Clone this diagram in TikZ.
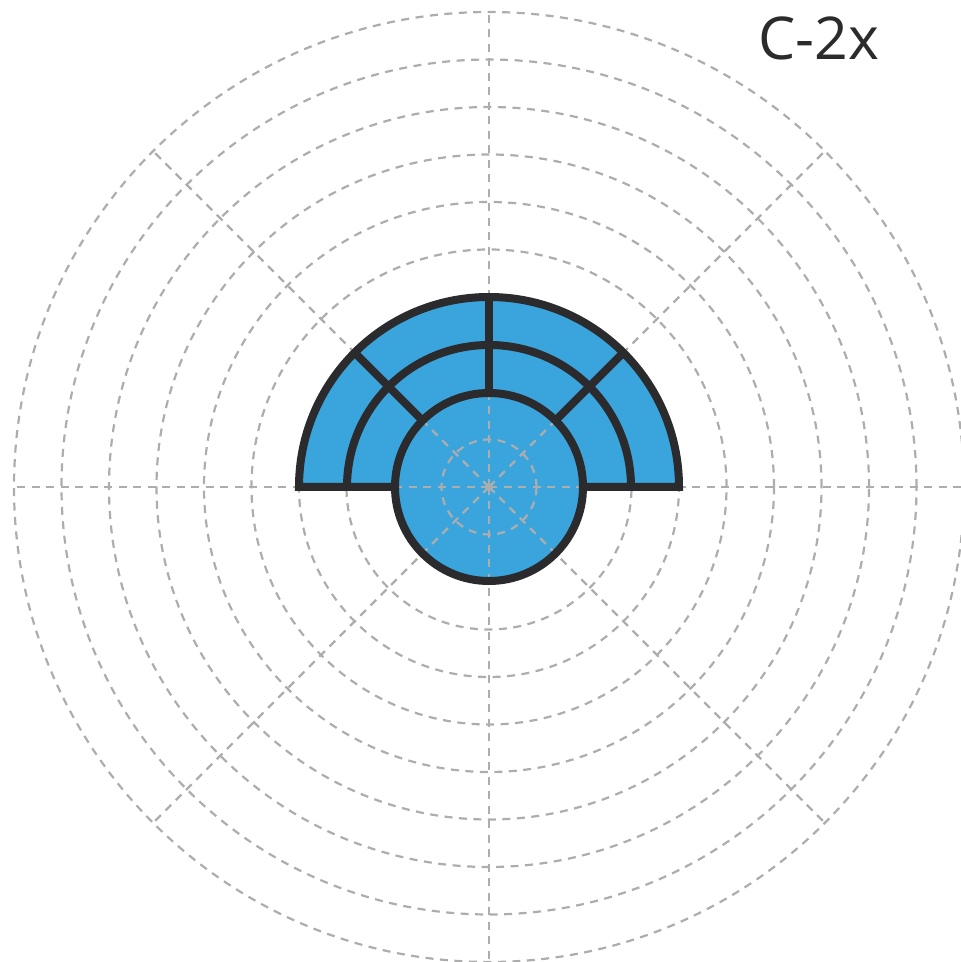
\documentclass[tikz,border=0pt]{standalone}
\usepackage{fontspec}
\setmainfont{Open Sans}
\usetikzlibrary{calc}
\definecolor{gridgray}{HTML}{ADADAD}
\definecolor{fillblue}{HTML}{3AA4DC}
\definecolor{inkdark}{HTML}{2B2A2C}
\tikzset{
  gridline/.style={draw=gridgray, line width=2.2pt, dash pattern=on 8pt off 6.5pt},
  shapeline/.style={draw=inkdark, line width=8pt},
  bluefill/.style={fill=fillblue}
}
\begin{document}
\begin{tikzpicture}[x=1pt,y=1pt]
\useasboundingbox (0,0) rectangle (961,962);
\coordinate (O) at (489,475);
% grid
\foreach \k in {1,...,10} {
  \draw[gridline] (O) circle[radius=47.5*\k];
}
\foreach \a in {0,45,...,315} {
  \draw[gridline] (O) -- ++(\a:475);
}
% outer band
\filldraw[bluefill, shapeline] ($(O)+(-190,0)$) arc[start angle=180, end angle=0, radius=190] -- cycle;
\draw[shapeline] ($(O)+(-142,0)$) arc[start angle=180, end angle=0, radius=142];
\draw[shapeline] ($(O)+(90:94)$) -- ($(O)+(90:190)$);
\draw[shapeline] ($(O)+(135:94)$) -- ($(O)+(135:190)$);
\draw[shapeline] ($(O)+(45:94)$) -- ($(O)+(45:190)$);
% inner disc
\fill[bluefill] (O) circle[radius=94];
\begin{scope}
  \clip (O) circle[radius=94];
  \draw[gridline] (O) circle[radius=47.5];
  \foreach \a in {0,45,...,315} {
    \draw[gridline] (O) -- ++(\a:100);
  }
\end{scope}
\fill[gridgray] (O) circle[radius=4];
\draw[shapeline] (O) circle[radius=94];
% label
\node[text=inkdark, font=\fontsize{59}{66}\selectfont, inner sep=0pt] (label) at (819,924) {C-2x};
\end{tikzpicture}
\end{document}
